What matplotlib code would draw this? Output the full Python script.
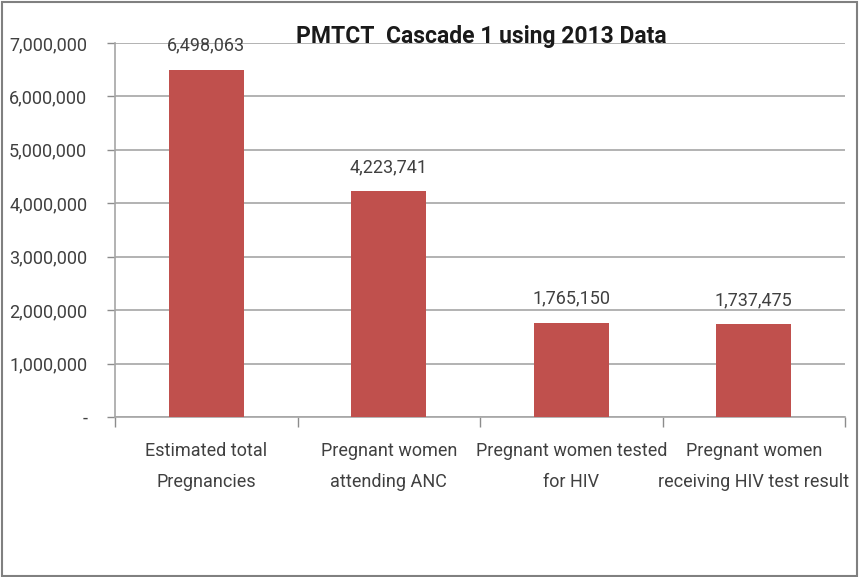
import matplotlib
matplotlib.use("Agg")
import matplotlib.pyplot as plt
from matplotlib.ticker import FuncFormatter, FixedLocator
from matplotlib.patches import Rectangle

categories = ["Estimated total\nPregnancies",
              "Pregnant women\nattending ANC",
              "Pregnant women tested\nfor HIV",
              "Pregnant women\nreceiving HIV test result"]
values = [6498063, 4223741, 1765150, 1737475]
yticks = [0, 1000000, 2000000, 3000000, 4000000, 5000000, 6000000, 7000000]
title = "PMTCT  Cascade 1 using 2013 Data"

FONT = ['Roboto', 'DejaVu Sans']
plt.rcParams['font.family'] = FONT

W, H = 859, 577
fig = plt.figure(figsize=(W / 100, H / 100), dpi=100)
ax = fig.add_axes([115 / W, 1 - 417 / H, (845 - 115) / W, (417 - 43) / H])

x = list(range(len(categories)))
bar_color = "#C0504D"
ax.bar(x, values, width=0.41, color=bar_color, zorder=3)

ax.set_xlim(-0.5, len(categories) - 0.5)
ax.set_ylim(0, 7000000)
ax.yaxis.set_major_locator(FixedLocator(yticks))
ax.yaxis.set_major_formatter(FuncFormatter(lambda v, p: "-" if v == 0 else f"{int(v):,}"))
ax.grid(axis="y", color="#A6A6A6", linewidth=1.2, zorder=0)
ax.tick_params(axis="y", labelsize=13, colors="#8C8C8C", labelcolor="#404040",
               length=6, width=1, pad=14)

ax.set_xticks([i - 0.5 for i in range(len(categories) + 1)])
ax.set_xticklabels([])
ax.set_xticks(x, minor=True)
ax.set_xticklabels(categories, minor=True, fontsize=13, color="#404040", linespacing=1.9)
ax.tick_params(axis="x", which="major", length=7, width=1, colors="#8C8C8C")
ax.tick_params(axis="x", which="minor", length=0, pad=18)

for side in ["top", "right"]:
    ax.spines[side].set_visible(False)
for side in ["left", "bottom"]:
    ax.spines[side].set_color("#A6A6A6")
    ax.spines[side].set_linewidth(1.2)

for xi, v in zip(x, values):
    ax.annotate(f"{v:,}", (xi, v), xytext=(0, 11), textcoords="offset points",
                ha="center", va="bottom", fontsize=13, color="#404040")

fig.text(481 / W, 1 - 36 / H, title, ha="center", va="center",
         fontsize=16.5, fontweight="bold", color="#1a1a1a")

fig.patches.append(Rectangle((0.002, 0.002), 0.996, 0.995, transform=fig.transFigure,
                             fill=False, edgecolor="#808080", linewidth=1.5))

fig.savefig("out.png", dpi=100)
